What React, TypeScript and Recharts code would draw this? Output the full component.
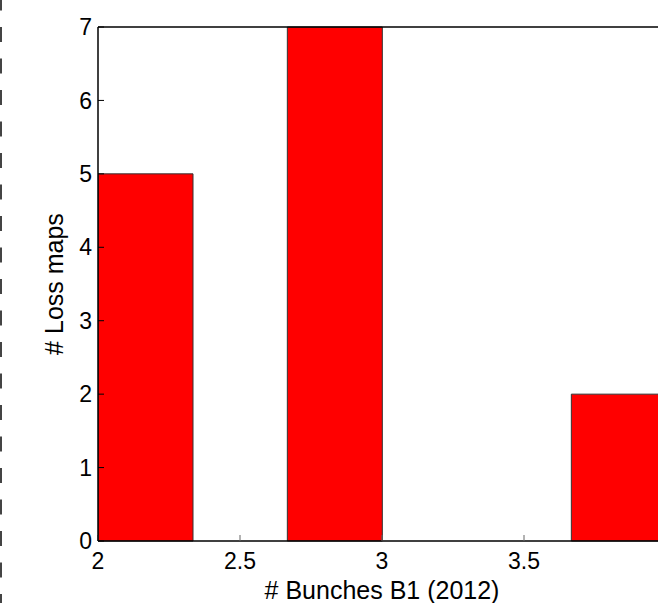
import React from 'react';
import { BarChart, Bar, XAxis, YAxis } from 'recharts';

const binCenters = [2.1667, 2.5, 2.8333, 3.1667, 3.5, 3.8333];
const counts = [5, 0, 7, 0, 0, 2];
const xTicks = [2, 2.5, 3, 3.5, 4];
const yTicks = [0, 1, 2, 3, 4, 5, 6, 7];

const data = binCenters.map((x, i) => ({ x, n: counts[i] }));

const FONT = '"Liberation Sans", Arial, Helvetica, sans-serif';

export default function App() {
  return (
    <div style={{ position: 'absolute', left: 0, top: 0, width: 658, height: 603, overflow: 'hidden', background: '#fff' }}>
      <svg width={4} height={603} style={{ position: 'absolute', left: 0, top: 0 }}>
        <line x1={1} y1={0} x2={1} y2={603} stroke="#444" strokeWidth={2} strokeDasharray="15 16.5" strokeDashoffset={4.5} />
      </svg>
      <div style={{ position: 'absolute', left: 0, top: 0 }}>
        <BarChart
          width={700}
          height={603}
          data={data}
          margin={{ top: 26, right: 34, bottom: 0, left: 0 }}
          barCategoryGap={0}
          barGap={0}
        >
          <XAxis
            dataKey="x"
            type="number"
            domain={[2, 4]}
            ticks={xTicks}
            allowDataOverflow
            height={62}
            stroke="#000"
            tickSize={-6}
            tickMargin={18}
            tick={{ fill: '#000', fontSize: 23, fontFamily: FONT }}
            tickLine={{ stroke: '#666' }}
            axisLine={{ stroke: '#000', strokeWidth: 1.5 }}
            label={{ value: '# Bunches B1 (2012)', position: 'insideBottom', offset: 4, fill: '#000', fontSize: 25, fontFamily: FONT }}
          />
          <XAxis
            xAxisId="top"
            orientation="top"
            dataKey="x"
            type="number"
            domain={[2, 4]}
            ticks={xTicks}
            allowDataOverflow
            height={1}
            tick={false}
            tickSize={-6}
            tickLine={{ stroke: '#666' }}
            axisLine={{ stroke: '#000', strokeWidth: 1.5 }}
          />
          <YAxis
            type="number"
            domain={[0, 7]}
            ticks={yTicks}
            width={98}
            tickSize={-6}
            tickMargin={12}
            tick={{ fill: '#000', fontSize: 23, fontFamily: FONT }}
            tickLine={{ stroke: '#000' }}
            axisLine={{ stroke: '#000', strokeWidth: 1.5 }}
            label={{ value: '# Loss maps', angle: -90, position: 'insideLeft', offset: 0, dx: 54, style: { textAnchor: 'middle' }, fill: '#000', fontSize: 25, fontFamily: FONT }}
          />
          <Bar dataKey="n" fill="#ff0000" stroke="#333" strokeWidth={1} isAnimationActive={false} />
        </BarChart>
      </div>
    </div>
  );
}
